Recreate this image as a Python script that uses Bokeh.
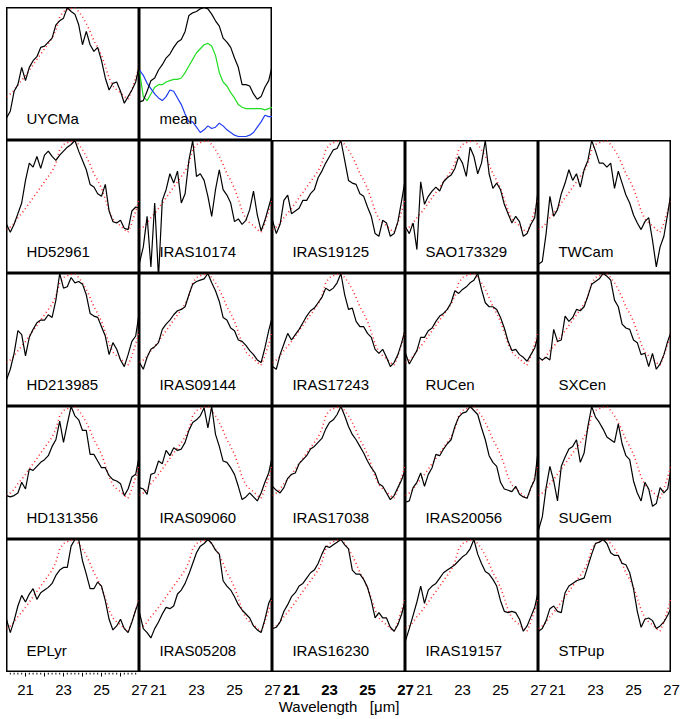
from bokeh.plotting import figure
from bokeh.layouts import gridplot, column
from bokeh.models import Range1d
from bokeh.embed import file_html
from bokeh.resources import INLINE
from bokeh.core.properties import value

# ---------------- data ----------------
wavelength = [20.0, 20.2, 20.4, 20.6, 20.8, 21.0, 21.2, 21.4, 21.6, 21.8,
              22.0, 22.2, 22.4, 22.6, 22.8, 23.0, 23.2, 23.4, 23.6, 23.8,
              24.0, 24.2, 24.4, 24.6, 24.8, 25.0, 25.2, 25.4, 25.6, 25.8,
              26.0, 26.2, 26.4, 26.6, 26.8, 27.0]

template_wl = [20.0, 20.3, 20.6, 20.9, 21.2, 21.5, 21.8, 22.1, 22.4, 22.6, 22.8,
               23.0, 23.3, 23.6, 23.8, 24.0, 24.2, 24.4, 24.6, 24.8, 25.0, 25.2,
               25.4, 25.6, 25.8, 26.0, 26.2, 26.4, 26.6, 26.8, 27.0]
template_flux = [0.33, 0.36, 0.42, 0.47, 0.53, 0.59, 0.65, 0.71, 0.77, 0.83, 0.93,
                 0.97, 0.99, 1.00, 0.97, 0.93, 0.88, 0.82, 0.75, 0.70, 0.64, 0.56,
                 0.47, 0.41, 0.38, 0.36, 0.33, 0.31, 0.38, 0.47, 0.57]

uycma = [0.17, 0.22, 0.37, 0.42, 0.55, 0.45, 0.55, 0.60, 0.63, 0.70, 0.71, 0.74, 0.77, 0.87, 0.90, 0.92, 1.00, 0.97,
         0.95, 0.87, 0.72, 0.82, 0.72, 0.67, 0.70, 0.60, 0.47, 0.38, 0.43, 0.44, 0.37, 0.28, 0.33, 0.38, 0.44, 0.57]
mean_black = [0.29, 0.30, 0.37, 0.45, 0.47, 0.53, 0.57, 0.62, 0.65, 0.70, 0.74, 0.76, 0.82, 0.94, 0.96, 0.97, 0.99, 1.00,
              0.99, 0.95, 0.90, 0.86, 0.77, 0.74, 0.70, 0.62, 0.55, 0.42, 0.42, 0.41, 0.35, 0.31, 0.33, 0.40, 0.45, 0.57]
mean_green = [0.52, 0.33, 0.30, 0.35, 0.40, 0.42, 0.42, 0.44, 0.45, 0.46, 0.46, 0.47, 0.51, 0.56, 0.61, 0.66, 0.69, 0.72,
              0.73, 0.71, 0.64, 0.51, 0.44, 0.41, 0.36, 0.32, 0.27, 0.25, 0.24, 0.24, 0.24, 0.24, 0.24, 0.23, 0.24, 0.25]
mean_blue = [0.53, 0.49, 0.43, 0.39, 0.35, 0.32, 0.30, 0.33, 0.38, 0.37, 0.32, 0.27, 0.20, 0.14, 0.14, 0.10, 0.06, 0.08,
             0.11, 0.09, 0.10, 0.13, 0.11, 0.08, 0.06, 0.04, 0.03, 0.03, 0.03, 0.04, 0.06, 0.10, 0.14, 0.19, 0.18, 0.18]

hd52961 = [0.37, 0.31, 0.37, 0.45, 0.53, 0.70, 0.83, 0.80, 0.88, 0.79, 0.89, 0.92, 0.88, 0.85, 0.89, 0.92, 0.95, 0.97,
           1.00, 0.92, 0.85, 0.78, 0.67, 0.65, 0.60, 0.58, 0.67, 0.47, 0.39, 0.38, 0.40, 0.34, 0.33, 0.47, 0.50, 0.49]
iras10174 = [0.08, 0.20, 0.43, 0.05, 0.53, -0.03, 0.55, 0.63, 0.75, 0.68, 0.77, 0.53, 0.60, 0.85, 1.00, 0.73, 0.75, 0.70,
             0.58, 0.43, 0.63, 0.78, 0.63, 0.59, 0.53, 0.39, 0.41, 0.37, 0.40, 0.48, 0.62, 0.44, 0.32, 0.40, 0.50, 0.60]
iras19125 = [0.40, 0.30, 0.37, 0.55, 0.59, 0.45, 0.47, 0.49, 0.55, 0.55, 0.60, 0.63, 0.72, 0.77, 0.83, 0.88, 0.93, 0.94,
             1.00, 0.85, 0.70, 0.68, 0.67, 0.60, 0.58, 0.50, 0.43, 0.30, 0.28, 0.40, 0.38, 0.28, 0.30, 0.39, 0.55, 0.72]
sao173329 = [0.35, 0.30, 0.38, 0.18, 0.69, 0.52, 0.58, 0.62, 0.65, 0.62, 0.69, 0.72, 0.74, 0.79, 0.88, 0.83, 0.73, 0.95,
             0.88, 0.75, 0.83, 1.00, 0.75, 0.64, 0.68, 0.63, 0.52, 0.45, 0.38, 0.43, 0.39, 0.28, 0.30, 0.37, 0.42, 0.65]
twcam = [0.07, 0.09, 0.30, 0.58, 0.43, 0.48, 0.60, 0.68, 0.78, 0.70, 0.75, 0.65, 0.78, 0.85, 1.00, 0.92, 0.83, 0.83,
         0.80, 0.83, 0.64, 0.77, 0.68, 0.59, 0.53, 0.44, 0.38, 0.33, 0.39, 0.42, 0.25, 0.05, 0.20, 0.28, 0.45, 0.63]

hd213985 = [0.20, 0.28, 0.40, 0.57, 0.54, 0.38, 0.52, 0.58, 0.63, 0.65, 0.65, 0.69, 0.67, 0.80, 1.00, 0.89, 0.90, 0.97,
            0.93, 0.94, 0.92, 0.84, 0.70, 0.68, 0.67, 0.60, 0.53, 0.39, 0.48, 0.43, 0.35, 0.30, 0.39, 0.49, 0.53, 0.72]
iras09144 = [0.33, 0.28, 0.37, 0.43, 0.45, 0.48, 0.58, 0.62, 0.65, 0.69, 0.72, 0.73, 0.75, 0.84, 0.92, 0.94, 0.95, 0.96,
             1.00, 0.93, 0.87, 0.79, 0.67, 0.65, 0.59, 0.57, 0.50, 0.49, 0.46, 0.42, 0.39, 0.35, 0.33, 0.44, 0.57, 0.68]
iras17243 = [0.30, 0.28, 0.39, 0.47, 0.55, 0.50, 0.54, 0.58, 0.63, 0.68, 0.72, 0.74, 0.78, 0.82, 0.89, 0.87, 0.89, 0.93,
             1.00, 0.84, 0.73, 0.74, 0.64, 0.60, 0.60, 0.55, 0.52, 0.43, 0.40, 0.43, 0.37, 0.30, 0.33, 0.39, 0.48, 0.59]
rucen = [0.40, 0.32, 0.37, 0.42, 0.52, 0.52, 0.57, 0.59, 0.64, 0.68, 0.70, 0.73, 0.78, 0.87, 0.85, 0.88, 0.90, 0.93,
         0.95, 1.00, 0.88, 0.78, 0.75, 0.75, 0.73, 0.67, 0.59, 0.49, 0.42, 0.43, 0.39, 0.37, 0.34, 0.39, 0.44, 0.54]
sxcen = [0.37, 0.35, 0.37, 0.35, 0.58, 0.49, 0.50, 0.68, 0.64, 0.67, 0.73, 0.72, 0.75, 0.83, 0.92, 0.94, 0.96, 1.00,
         0.98, 0.95, 0.80, 0.75, 0.62, 0.59, 0.58, 0.50, 0.48, 0.39, 0.40, 0.30, 0.40, 0.28, 0.32, 0.39, 0.49, 0.57]

hd131356 = [0.33, 0.32, 0.33, 0.35, 0.43, 0.38, 0.53, 0.52, 0.55, 0.58, 0.60, 0.63, 0.70, 0.75, 0.89, 0.73, 0.87, 1.00,
            0.93, 0.90, 0.82, 0.82, 0.64, 0.64, 0.59, 0.54, 0.54, 0.48, 0.45, 0.44, 0.42, 0.33, 0.38, 0.47, 0.49, 0.64]
iras09060 = [0.39, 0.38, 0.34, 0.49, 0.50, 0.59, 0.57, 0.67, 0.63, 0.69, 0.67, 0.68, 0.73, 0.82, 0.88, 0.90, 0.93, 0.99,
             0.84, 1.00, 0.79, 0.70, 0.59, 0.58, 0.54, 0.49, 0.40, 0.30, 0.32, 0.35, 0.32, 0.29, 0.35, 0.43, 0.50, 0.63]
iras17038 = [0.40, 0.37, 0.35, 0.39, 0.46, 0.49, 0.50, 0.57, 0.60, 0.63, 0.68, 0.70, 0.73, 0.76, 0.83, 0.88, 0.90, 0.94,
             1.00, 0.93, 0.85, 0.79, 0.75, 0.70, 0.65, 0.59, 0.54, 0.50, 0.42, 0.40, 0.35, 0.30, 0.33, 0.39, 0.45, 0.53]
iras20056 = [0.28, 0.29, 0.39, 0.43, 0.50, 0.40, 0.49, 0.54, 0.64, 0.63, 0.68, 0.72, 0.75, 0.85, 0.92, 0.95, 0.96, 1.00,
             0.97, 0.94, 0.84, 0.75, 0.63, 0.58, 0.55, 0.43, 0.38, 0.37, 0.36, 0.40, 0.34, 0.32, 0.31, 0.39, 0.45, 0.69]
sugem = [0.07, 0.17, 0.39, 0.55, 0.44, 0.29, 0.55, 0.62, 0.68, 0.70, 0.75, 0.58, 0.65, 0.85, 1.00, 0.92, 0.88, 0.83,
         0.77, 0.75, 0.73, 0.87, 0.72, 0.63, 0.60, 0.44, 0.35, 0.29, 0.43, 0.38, 0.25, 0.27, 0.39, 0.35, 0.38, 0.55]

eplyr = [0.40, 0.30, 0.39, 0.50, 0.58, 0.53, 0.59, 0.63, 0.55, 0.60, 0.62, 0.64, 0.67, 0.73, 0.77, 0.79, 0.79, 0.95,
         1.00, 1.00, 0.84, 0.74, 0.63, 0.63, 0.68, 0.65, 0.54, 0.40, 0.32, 0.35, 0.40, 0.33, 0.30, 0.38, 0.47, 0.55]
iras05208 = [0.45, 0.33, 0.30, 0.26, 0.33, 0.38, 0.44, 0.49, 0.48, 0.50, 0.59, 0.62, 0.67, 0.74, 0.82, 0.90, 0.95, 0.97,
             1.00, 0.97, 0.92, 0.89, 0.69, 0.65, 0.62, 0.57, 0.51, 0.47, 0.44, 0.41, 0.35, 0.32, 0.30, 0.40, 0.52, 0.58]
iras16230 = [0.33, 0.34, 0.38, 0.46, 0.51, 0.57, 0.60, 0.65, 0.67, 0.71, 0.75, 0.77, 0.82, 0.89, 0.95, 0.94, 0.96, 0.98,
             1.00, 0.96, 0.93, 0.77, 0.74, 0.74, 0.70, 0.64, 0.54, 0.41, 0.45, 0.41, 0.41, 0.34, 0.31, 0.36, 0.44, 0.55]
iras19157 = [0.24, 0.33, 0.43, 0.53, 0.65, 0.52, 0.62, 0.65, 0.67, 0.71, 0.75, 0.77, 0.79, 0.81, 0.84, 0.87, 0.89, 0.93,
             1.00, 0.89, 0.82, 0.76, 0.74, 0.70, 0.65, 0.54, 0.46, 0.45, 0.46, 0.45, 0.40, 0.31, 0.35, 0.42, 0.49, 0.62]
stpup = [0.31, 0.33, 0.39, 0.48, 0.50, 0.46, 0.45, 0.60, 0.65, 0.67, 0.69, 0.70, 0.71, 0.80, 0.89, 0.97, 0.98, 1.00,
         0.97, 0.90, 0.88, 0.88, 0.82, 0.81, 0.75, 0.63, 0.46, 0.34, 0.40, 0.41, 0.39, 0.33, 0.35, 0.38, 0.43, 0.49]

grid_names = [
    ["UYCMa", "mean"],
    ["HD52961", "IRAS10174", "IRAS19125", "SAO173329", "TWCam"],
    ["HD213985", "IRAS09144", "IRAS17243", "RUCen", "SXCen"],
    ["HD131356", "IRAS09060", "IRAS17038", "IRAS20056", "SUGem"],
    ["EPLyr", "IRAS05208", "IRAS16230", "IRAS19157", "STPup"],
]
spectra = {
    "UYCMa": uycma, "mean": mean_black,
    "HD52961": hd52961, "IRAS10174": iras10174, "IRAS19125": iras19125, "SAO173329": sao173329, "TWCam": twcam,
    "HD213985": hd213985, "IRAS09144": iras09144, "IRAS17243": iras17243, "RUCen": rucen, "SXCen": sxcen,
    "HD131356": hd131356, "IRAS09060": iras09060, "IRAS17038": iras17038, "IRAS20056": iras20056, "SUGem": sugem,
    "EPLyr": eplyr, "IRAS05208": iras05208, "IRAS16230": iras16230, "IRAS19157": iras19157, "STPup": stpup,
}

tick_values = [21, 23, 25, 27]
tick_labels = ["21", "23", "25", "27"]
x_start, x_end = 20.0, 27.0
x_label = "Wavelength\u00a0\u00a0\u00a0[\u03bcm]"

# ---------------- styling ----------------
PW, PH = 133, 133
FONT = "Liberation Sans"
LABEL_X, LABEL_Y = 21.05, 0.165
PX_PER_UNIT = PW / (x_end - x_start)


def make_panel(name):
    p = figure(width=PW, height=PH, x_range=Range1d(x_start, x_end), y_range=Range1d(0, 1),
               x_axis_location=None, y_axis_location=None, output_backend="svg",
               toolbar_location=None, min_border=0)
    p.grid.visible = False
    p.outline_line_color = "black"
    p.outline_line_width = 2
    p.outline_line_alpha = 1.0
    p.background_fill_color = "white"
    p.border_fill_color = "white"
    if name == "mean":
        p.line(wavelength, mean_green, line_color="#22dd22", line_width=1.2)
        p.line(wavelength, mean_blue, line_color="#1f3cf0", line_width=1.2)
    else:
        p.line(template_wl, template_flux, line_color="#ff2a2a", line_width=1.6, line_dash="1 3")
    p.line(wavelength, spectra[name], line_color="black", line_width=1.2)
    p.text(x=[LABEL_X], y=[LABEL_Y], text=[name], text_font=value(FONT), text_font_size="15px",
           text_baseline="middle", text_align="left", text_color="black")
    return p


rows = []
for names in grid_names:
    row = [make_panel(n) for n in names]
    row += [None] * (5 - len(row))
    rows.append(row)

grid = gridplot(rows, toolbar_location=None)

ncols = 5
SH = 44
SW = PW * ncols + 11
strip = figure(width=SW, height=SH, x_range=Range1d(0, SW / PX_PER_UNIT),
               y_range=Range1d(0, SH), x_axis_location=None, y_axis_location=None,
               output_backend="svg", toolbar_location=None, min_border=0)
strip.grid.visible = False
strip.outline_line_color = None
strip.background_fill_color = "white"
strip.border_fill_color = "white"

for c in range(ncols):
    xs = [c * (x_end - x_start) + (t - x_start) for t in tick_values]
    strip.text(x=xs, y=[SH - 17] * len(xs), text=tick_labels, text_font=value(FONT),
               text_font_size="15px", text_align="center", text_baseline="middle",
               text_font_style="bold" if c == 2 else "normal", text_color="black")

# tick marks under the first column
major = [21, 22, 23, 24, 25, 26]
minor = [20 + 0.2 * k for k in range(1, 35) if k % 5 != 0]
strip.segment(x0=[m - x_start for m in major], y0=[SH] * len(major),
              x1=[m - x_start for m in major], y1=[SH - 4] * len(major), line_color="black", line_width=1)
strip.segment(x0=[m - x_start for m in minor], y0=[SH] * len(minor),
              x1=[m - x_start for m in minor], y1=[SH - 2] * len(minor), line_color="black", line_width=1)

strip.text(x=[(x_end - x_start) * ncols / 2], y=[SH - 34], text=[x_label], text_font=value(FONT),
           text_font_size="15px", text_align="center", text_baseline="middle", text_color="black")

layout = column(grid, strip, margin=(7, 0, 0, 6))

open("out.html", "w").write(file_html(layout, INLINE))
